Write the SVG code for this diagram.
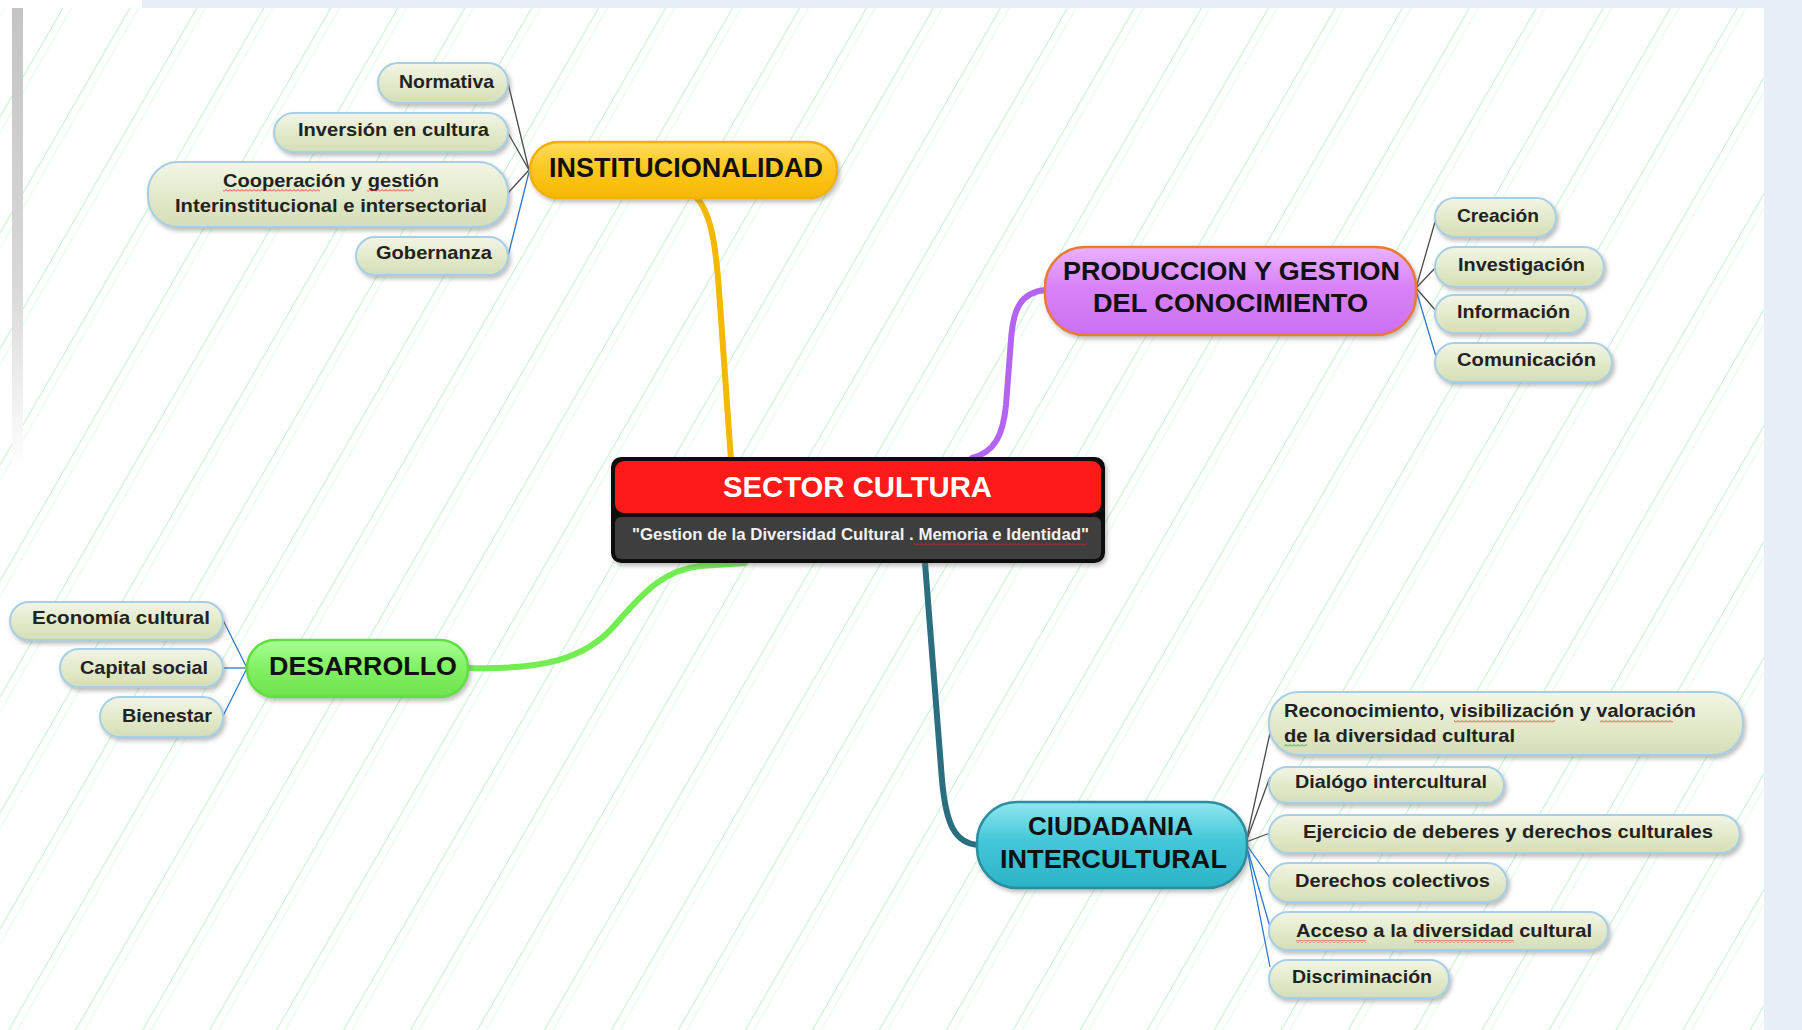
<svg xmlns="http://www.w3.org/2000/svg" width="1802" height="1030" viewBox="0 0 1802 1030">
<defs>
<style>
.ct{font-family:"Liberation Sans",Arial,sans-serif;font-weight:bold;font-size:19px;fill:#222}
.mt{font-family:"Liberation Sans",Arial,sans-serif;font-weight:bold;font-size:26px;fill:#111}
.child{fill:url(#gChild);stroke:#a6cfe6;stroke-width:2;filter:url(#sh)}
.lk{fill:none;stroke-width:1.3}
.gr{stroke:#4a4a4a}
.bl{stroke:#2a78d0}
.br{fill:none;stroke-linecap:round;stroke-width:6}
.sq{fill:url(#squig)}
.sqg{fill:url(#squigG)}
</style>
<pattern id="hatch" patternUnits="userSpaceOnUse" width="58" height="58" patternTransform="rotate(30)">
<line x1="0.5" y1="0" x2="0.5" y2="58" stroke="#bff2cf" stroke-width="1"/>
<line x1="8" y1="0" x2="8" y2="58" stroke="#eafbee" stroke-width="1.5"/>
</pattern>
<pattern id="squig" patternUnits="userSpaceOnUse" width="4" height="3">
<polyline points="0,2.5 2,0.5 4,2.5" fill="none" stroke="#e02020" stroke-width="0.9"/>
</pattern>
<pattern id="squigG" patternUnits="userSpaceOnUse" width="4" height="3">
<polyline points="0,2.5 2,0.5 4,2.5" fill="none" stroke="#20a040" stroke-width="0.9"/>
</pattern>
<linearGradient id="gBar" x1="0" y1="0" x2="0" y2="1">
<stop offset="0" stop-color="#c4c4c4"/>
<stop offset="0.6" stop-color="#d8d8d8"/>
<stop offset="1" stop-color="#ffffff"/>
</linearGradient>
<linearGradient id="gChild" x1="0" y1="0" x2="0" y2="1">
<stop offset="0" stop-color="#f2f5e6"/>
<stop offset="0.5" stop-color="#e3eacb"/>
<stop offset="1" stop-color="#d4deb6"/>
</linearGradient>
<linearGradient id="gYel" x1="0" y1="0" x2="0" y2="1">
<stop offset="0" stop-color="#ffdc60"/>
<stop offset="0.45" stop-color="#fcc822"/>
<stop offset="1" stop-color="#f6b800"/>
</linearGradient>
<linearGradient id="gPur" x1="0" y1="0" x2="0" y2="1">
<stop offset="0" stop-color="#eab2ff"/>
<stop offset="0.45" stop-color="#d982f8"/>
<stop offset="1" stop-color="#cc70f2"/>
</linearGradient>
<linearGradient id="gGrn" x1="0" y1="0" x2="0" y2="1">
<stop offset="0" stop-color="#aaff96"/>
<stop offset="0.45" stop-color="#84f266"/>
<stop offset="1" stop-color="#6ee24c"/>
</linearGradient>
<linearGradient id="gTeal" x1="0" y1="0" x2="0" y2="1">
<stop offset="0" stop-color="#90e6f0"/>
<stop offset="0.45" stop-color="#42c8d8"/>
<stop offset="1" stop-color="#2cb2c6"/>
</linearGradient>
<filter id="sh" x="-10%" y="-20%" width="125%" height="150%">
<feDropShadow dx="2" dy="3" stdDeviation="2" flood-color="#707070" flood-opacity="0.45"/>
</filter>
</defs>

<!-- background -->
<rect x="0" y="0" width="1802" height="1030" fill="#ffffff"/>
<rect x="0" y="8" width="1764" height="1022" fill="url(#hatch)"/>
<rect x="142" y="0" width="1660" height="8" fill="#e8eef6"/>
<rect x="1764" y="0" width="38" height="1030" fill="#e8eef6"/>
<rect x="12" y="8" width="11" height="460" fill="url(#gBar)"/>

<g id="connectors">
<!-- main branches -->
<path class="br" stroke="#f5b800" d="M 697 198 C 712 215, 716 250, 719 290 C 723 350, 728 410, 731 460"/>
<path class="br" stroke="#b464f2" d="M 1046 290 C 1020 292, 1013 310, 1011 340 L 1006 405 C 1003 435, 995 452, 972 458"/>
<path class="br" stroke="#72ee52" d="M 468 668 C 540 670, 585 660, 615 625 C 645 590, 665 570, 700 566 L 745 563"/>
<path class="br" stroke="#2a6e80" d="M 925 563 C 930 620, 936 700, 942 780 C 946 825, 955 843, 978 845"/>
<!-- INSTITUCIONALIDAD children -->
<line class="lk gr" x1="529" y1="170" x2="508" y2="83"/>
<line class="lk gr" x1="529" y1="170" x2="508" y2="133"/>
<line class="lk gr" x1="529" y1="170" x2="508" y2="193"/>
<line class="lk bl" x1="529" y1="172" x2="508" y2="256"/>
<!-- PRODUCCION children -->
<line class="lk gr" x1="1416" y1="288" x2="1437" y2="215"/>
<line class="lk gr" x1="1416" y1="288" x2="1437" y2="266"/>
<line class="lk gr" x1="1416" y1="288" x2="1437" y2="312"/>
<line class="lk bl" x1="1416" y1="290" x2="1437" y2="360"/>
<!-- DESARROLLO children -->
<line class="lk bl" x1="247" y1="668" x2="223" y2="620"/>
<line class="lk bl" x1="247" y1="668" x2="223" y2="668"/>
<line class="lk bl" x1="247" y1="668" x2="223" y2="716"/>
<!-- CIUDADANIA children -->
<line class="lk gr" x1="1246" y1="842" x2="1270" y2="733"/>
<line class="lk gr" x1="1246" y1="842" x2="1270" y2="777"/>
<line class="lk gr" x1="1246" y1="842" x2="1270" y2="833"/>
<line class="lk bl" x1="1246" y1="844" x2="1270" y2="878"/>
<line class="lk bl" x1="1246" y1="844" x2="1270" y2="927"/>
<line class="lk bl" x1="1246" y1="844" x2="1270" y2="967"/>
</g>

<g id="central">
<rect x="611" y="457" width="494" height="106" rx="10" fill="#0a0a0a" filter="url(#sh)"/>
<rect x="615" y="461" width="486" height="52" rx="9" fill="#ff1a1a"/>
<rect x="615" y="517" width="486" height="42" rx="6" fill="#3e3e3e"/>
<text x="723" y="497" textLength="269" lengthAdjust="spacingAndGlyphs" style="font-family:'Liberation Sans',Arial,sans-serif;font-weight:bold;font-size:30px;fill:#ffffff">SECTOR CULTURA</text>
<text x="632" y="540" textLength="457" lengthAdjust="spacingAndGlyphs" style="font-family:'Liberation Sans',Arial,sans-serif;font-weight:bold;font-size:16px;fill:#f2f2f2">"Gestion de la Diversidad Cultural . Memoria e Identidad"</text>
<rect class="sq" x="914" y="543" width="173" height="3"/>
</g>

<g id="institucionalidad">
<rect x="530" y="142" width="307" height="56" rx="28" fill="url(#gYel)" stroke="#f2b000" stroke-width="2.5" filter="url(#sh)"/>
<text class="mt" x="549" y="177" textLength="274" lengthAdjust="spacingAndGlyphs" style="font-size:27px">INSTITUCIONALIDAD</text>
</g>
<g id="normativa">
<rect class="child" x="378" y="63" width="130" height="40" rx="20"/>
<text class="ct" x="399" y="88" textLength="95" lengthAdjust="spacingAndGlyphs">Normativa</text>
</g>
<g id="inversion">
<rect class="child" x="274" y="113" width="234" height="39" rx="19.5"/>
<text class="ct" x="298" y="136" textLength="191" lengthAdjust="spacingAndGlyphs">Inversión en cultura</text>
</g>
<g id="cooperacion">
<rect class="child" x="148" y="162" width="360" height="65" rx="30"/>
<text class="ct" x="223" y="187" textLength="216" lengthAdjust="spacingAndGlyphs">Cooperación y gestión</text>
<text class="ct" x="175" y="212" textLength="312" lengthAdjust="spacingAndGlyphs">Interinstitucional e intersectorial</text>
<rect class="sq" x="223" y="189" width="97" height="3"/>
<rect class="sq" x="367" y="189" width="47" height="3"/>
</g>
<g id="gobernanza">
<rect class="child" x="356" y="237" width="152" height="38" rx="19"/>
<text class="ct" x="376" y="259" textLength="116" lengthAdjust="spacingAndGlyphs">Gobernanza</text>
</g>

<g id="produccion">
<rect x="1045" y="247" width="371" height="88" rx="40" fill="url(#gPur)" stroke="#e87a34" stroke-width="2.5" filter="url(#sh)"/>
<text class="mt" x="1063" y="280" textLength="337" lengthAdjust="spacingAndGlyphs">PRODUCCION Y GESTION</text>
<text class="mt" x="1093" y="312" textLength="275" lengthAdjust="spacingAndGlyphs">DEL CONOCIMIENTO</text>
</g>
<g id="creacion">
<rect class="child" x="1435" y="198" width="121" height="39" rx="19.5"/>
<text class="ct" x="1457" y="222" textLength="82" lengthAdjust="spacingAndGlyphs">Creación</text>
</g>
<g id="investigacion">
<rect class="child" x="1435" y="247" width="169" height="40" rx="20"/>
<text class="ct" x="1458" y="271" textLength="127" lengthAdjust="spacingAndGlyphs">Investigación</text>
</g>
<g id="informacion">
<rect class="child" x="1435" y="295" width="152" height="38" rx="19"/>
<text class="ct" x="1457" y="318" textLength="113" lengthAdjust="spacingAndGlyphs">Información</text>
</g>
<g id="comunicacion">
<rect class="child" x="1435" y="343" width="177" height="39" rx="19.5"/>
<text class="ct" x="1457" y="366" textLength="139" lengthAdjust="spacingAndGlyphs">Comunicación</text>
</g>

<g id="desarrollo">
<rect x="247" y="640" width="221" height="57" rx="28" fill="url(#gGrn)" stroke="#5ee040" stroke-width="2.5" filter="url(#sh)"/>
<text class="mt" x="269" y="675" textLength="188" lengthAdjust="spacingAndGlyphs" style="font-size:25px">DESARROLLO</text>
</g>
<g id="economia">
<rect class="child" x="10" y="602" width="213" height="38" rx="19"/>
<text class="ct" x="32" y="624" textLength="178" lengthAdjust="spacingAndGlyphs">Economía cultural</text>
</g>
<g id="capital">
<rect class="child" x="60" y="649" width="163" height="38" rx="19"/>
<text class="ct" x="80" y="674" textLength="128" lengthAdjust="spacingAndGlyphs">Capital social</text>
</g>
<g id="bienestar">
<rect class="child" x="100" y="697" width="123" height="40" rx="20"/>
<text class="ct" x="122" y="722" textLength="90" lengthAdjust="spacingAndGlyphs">Bienestar</text>
</g>

<g id="ciudadania">
<rect x="977" y="802" width="270" height="86" rx="40" fill="url(#gTeal)" stroke="#2a8ea0" stroke-width="2.5" filter="url(#sh)"/>
<text class="mt" x="1028" y="835" textLength="165" lengthAdjust="spacingAndGlyphs" style="font-size:25px">CIUDADANIA</text>
<text class="mt" x="1000" y="868" textLength="227" lengthAdjust="spacingAndGlyphs" style="font-size:25px">INTERCULTURAL</text>
</g>
<g id="reconocimiento">
<rect class="child" x="1269" y="692" width="474" height="63" rx="30"/>
<text class="ct" x="1284" y="717" textLength="412" lengthAdjust="spacingAndGlyphs">Reconocimiento, visibilización y valoración</text>
<text class="ct" x="1284" y="742" textLength="231" lengthAdjust="spacingAndGlyphs">de la diversidad cultural</text>
<rect class="sq" x="1454" y="720" width="101" height="3"/>
<rect class="sq" x="1600" y="720" width="73" height="3"/>
<rect class="sqg" x="1284" y="744" width="23" height="3"/>
</g>
<g id="dialogo">
<rect class="child" x="1269" y="767" width="235" height="36" rx="18"/>
<text class="ct" x="1295" y="788" textLength="192" lengthAdjust="spacingAndGlyphs">Dialógo intercultural</text>
</g>
<g id="ejercicio">
<rect class="child" x="1269" y="815" width="471" height="38" rx="19"/>
<text class="ct" x="1303" y="838" textLength="410" lengthAdjust="spacingAndGlyphs">Ejercicio de deberes y derechos culturales</text>
</g>
<g id="derechos">
<rect class="child" x="1269" y="863" width="238" height="39" rx="19.5"/>
<text class="ct" x="1295" y="887" textLength="195" lengthAdjust="spacingAndGlyphs">Derechos colectivos</text>
</g>
<g id="acceso">
<rect class="child" x="1269" y="912" width="339" height="38" rx="19"/>
<text class="ct" x="1296" y="937" textLength="296" lengthAdjust="spacingAndGlyphs">Acceso a la diversidad cultural</text>
<rect class="sq" x="1296" y="940" width="70" height="3"/>
<rect class="sq" x="1414" y="940" width="100" height="3"/>
</g>
<g id="discriminacion">
<rect class="child" x="1269" y="960" width="180" height="38" rx="19"/>
<text class="ct" x="1292" y="983" textLength="140" lengthAdjust="spacingAndGlyphs">Discriminación</text>
</g>
</svg>
